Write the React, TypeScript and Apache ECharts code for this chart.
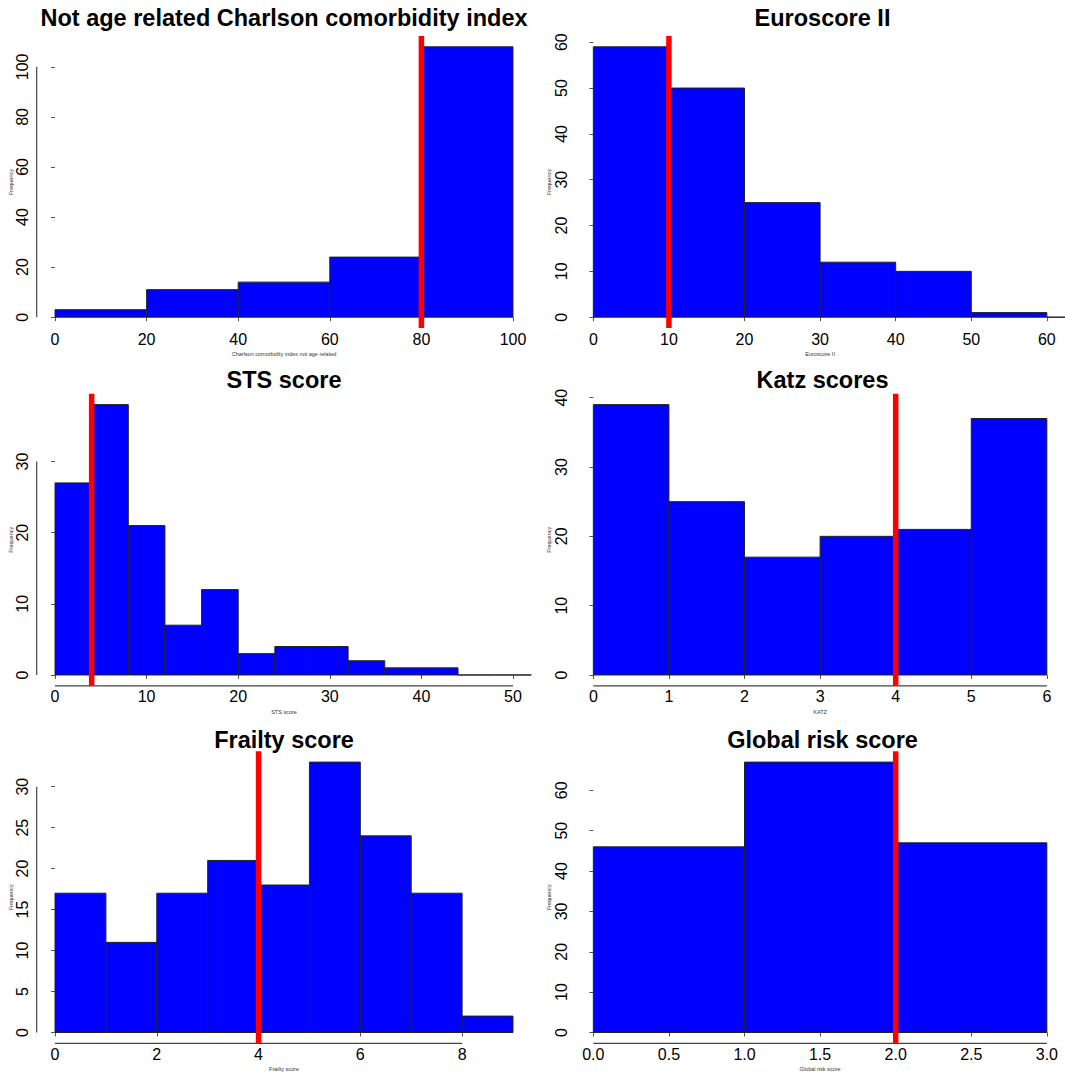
import React, { useEffect, useRef } from "react";
import * as echarts from "echarts";

// ---- data ----
const titles = [
  "Not age related Charlson comorbidity index",
  "Euroscore II",
  "STS score",
  "Katz scores",
  "Frailty score",
  "Global risk score",
];
const xNames = [
  "Charlson comorbidity index not age related",
  "Euroscore II",
  "STS score",
  "KATZ",
  "Frailty score",
  "Global risk score",
];
const yName = "Frequency";

const charlsonBreaks = [0, 20, 40, 60, 80, 100];
const charlsonCounts = [3, 11, 14, 24, 108];
const euroBreaks = [0, 10, 20, 30, 40, 50, 60, 70];
const euroCounts = [59, 50, 25, 12, 10, 1, 0];
const stsBreaks = [0, 4, 8, 12, 16, 20, 24, 28, 32, 36, 40, 44, 48, 52];
const stsCounts = [27, 38, 21, 7, 12, 3, 4, 4, 2, 1, 1, 0, 0];
const katzBreaks = [0, 1, 2, 3, 4, 5, 6];
const katzCounts = [39, 25, 17, 20, 21, 37];
const frailtyBreaks = [0, 1, 2, 3, 4, 5, 6, 7, 8, 9];
const frailtyCounts = [17, 11, 17, 21, 18, 33, 24, 17, 2];
const globalBreaks = [0, 1, 2, 3];
const globalCounts = [46, 67, 47];

const cutoffs = [80, 10, 4, 4, 4, 2];

const xLimits = [
  [0, 100],
  [0, 60],
  [0, 50],
  [0, 6],
  [0, 9],
  [0, 3],
];
const xTicks = [
  [0, 20, 40, 60, 80, 100],
  [0, 10, 20, 30, 40, 50, 60],
  [0, 10, 20, 30, 40, 50],
  [0, 1, 2, 3, 4, 5, 6],
  [0, 2, 4, 6, 8],
  [0, 0.5, 1, 1.5, 2, 2.5, 3],
];
const yTicks = [
  [0, 20, 40, 60, 80, 100],
  [0, 10, 20, 30, 40, 50, 60],
  [0, 10, 20, 30],
  [0, 10, 20, 30, 40],
  [0, 5, 10, 15, 20, 25, 30],
  [0, 10, 20, 30, 40, 50, 60],
];

const allBreaks = [charlsonBreaks, euroBreaks, stsBreaks, katzBreaks, frailtyBreaks, globalBreaks];
const allCounts = [charlsonCounts, euroCounts, stsCounts, katzCounts, frailtyCounts, globalCounts];

const showYLine = [true, false, true, false, true, false];
const showXLine = [false, false, true, true, true, true];

// ---- layout ----
const colLeft = [36.7, 575.2];
const plotW = 494.6;
const rowTop = [36, 393.8, 751.3];
const titleTop = [6, 368, 728];
const plotH = 292;
const FONT = "'Liberation Sans', Arial, Helvetica, sans-serif";

function buildOption() {
  const grid: any[] = [];
  const xAxis: any[] = [];
  const yAxis: any[] = [];
  const series: any[] = [];
  const title: any[] = [];

  for (let i = 0; i < 6; i++) {
    const col = i % 2;
    const row = Math.floor(i / 2);
    const left = colLeft[col];
    const top = rowTop[row];
    grid.push({ left, top, width: plotW, height: plotH, containLabel: false });

    const [x0, x1] = xLimits[i];
    const xr = x1 - x0;
    const xMin = x0 - 0.04 * xr;
    const xMax = x1 + 0.04 * xr;
    const ymaxData = Math.max(...allCounts[i]);
    const yMin = -0.04 * ymaxData;
    const yMax = 1.04 * ymaxData;

    title.push({
      text: titles[i],
      left: left + plotW / 2,
      top: titleTop[row],
      textAlign: "center",
      padding: 0,
      textStyle: { fontFamily: FONT, fontSize: 23.5, fontWeight: "bold", color: "#000" },
    });

    xAxis.push({
      type: "value",
      gridIndex: i,
      min: xMin,
      max: xMax,
      name: xNames[i],
      nameLocation: "middle",
      nameGap: 23,
      nameTextStyle: { fontFamily: FONT, fontSize: 5.5, color: "#333" },
      axisLine: { show: false },
      splitLine: { show: false },
      axisTick: {
        show: true,
        customValues: xTicks[i],
        length: 4,
        lineStyle: { color: "#555", width: 1 },
      },
      axisLabel: {
        customValues: xTicks[i],
        margin: 3,
        fontFamily: FONT,
        fontSize: 16,
        color: "#000",
        formatter: (v: number) => (i === 5 ? v.toFixed(1) : String(v)),
      },
    });

    yAxis.push({
      type: "value",
      gridIndex: i,
      min: yMin,
      max: yMax,
      name: yName,
      nameLocation: "middle",
      nameGap: 22,
      nameRotate: 90,
      nameTextStyle: { fontFamily: FONT, fontSize: 5.5, color: "#333" },
      axisLine: { show: false },
      splitLine: { show: false },
      axisTick: {
        show: true,
        customValues: yTicks[i],
        length: 4,
        lineStyle: { color: "#555", width: 1 },
      },
      axisLabel: {
        customValues: yTicks[i],
        rotate: 90,
        margin: 6,
        fontFamily: FONT,
        fontSize: 16,
        color: "#000",
      },
    });

    const br = allBreaks[i];
    const histData = allCounts[i].map((c, k) => [br[k], br[k + 1], c]);

    series.push({
      type: "custom",
      xAxisIndex: i,
      yAxisIndex: i,
      clip: true,
      encode: { x: [0, 1], y: 2 },
      data: histData,
      renderItem: (params: any, api: any) => {
        const a = api.value(0);
        const b = api.value(1);
        const c = api.value(2);
        const p0 = api.coord([a, 0]);
        const p1 = api.coord([b, c]);
        return {
          type: "rect",
          shape: { x: p0[0], y: p1[1], width: p1[0] - p0[0], height: p0[1] - p1[1] },
          style: { fill: "#0000ff", stroke: "#222", lineWidth: 1 },
        };
      },
      z: 2,
    });

    // axis lines (R style: span first to last tick)
    const axisSegs: number[][] = [];
    const yt = yTicks[i];
    const xt = xTicks[i];
    if (showYLine[i]) axisSegs.push([xMin, yt[0], xMin, yt[yt.length - 1]]);
    if (showXLine[i]) axisSegs.push([xt[0], yMin, xt[xt.length - 1], yMin]);
    if (axisSegs.length) {
      series.push({
        type: "custom",
        xAxisIndex: i,
        yAxisIndex: i,
        clip: false,
        encode: { x: [0, 2], y: [1, 3] },
        data: axisSegs,
        renderItem: (params: any, api: any) => {
          const p0 = api.coord([api.value(0), api.value(1)]);
          const p1 = api.coord([api.value(2), api.value(3)]);
          return {
            type: "line",
            shape: { x1: p0[0], y1: p0[1], x2: p1[0], y2: p1[1] },
            style: { stroke: "#444", lineWidth: 1.2 },
          };
        },
        z: 1,
      });
    }

    series.push({
      type: "line",
      xAxisIndex: i,
      yAxisIndex: i,
      data: [
        [cutoffs[i], yMin],
        [cutoffs[i], yMax],
      ],
      showSymbol: false,
      symbol: "none",
      lineStyle: { color: "#ff0000", width: 5.5 },
      z: 5,
    });
  }

  return {
    animation: false,
    backgroundColor: "#ffffff",
    title,
    grid,
    xAxis,
    yAxis,
    series,
  };
}

export default function App() {
  const ref = useRef<HTMLDivElement>(null);
  useEffect(() => {
    document.body.style.margin = "0";
    if (!ref.current) return;
    const chart = echarts.init(ref.current, null, { renderer: "svg" });
    chart.setOption(buildOption() as any);
    return () => chart.dispose();
  }, []);
  return <div ref={ref} style={{ width: 1065, height: 1074, background: "#fff" }} />;
}
